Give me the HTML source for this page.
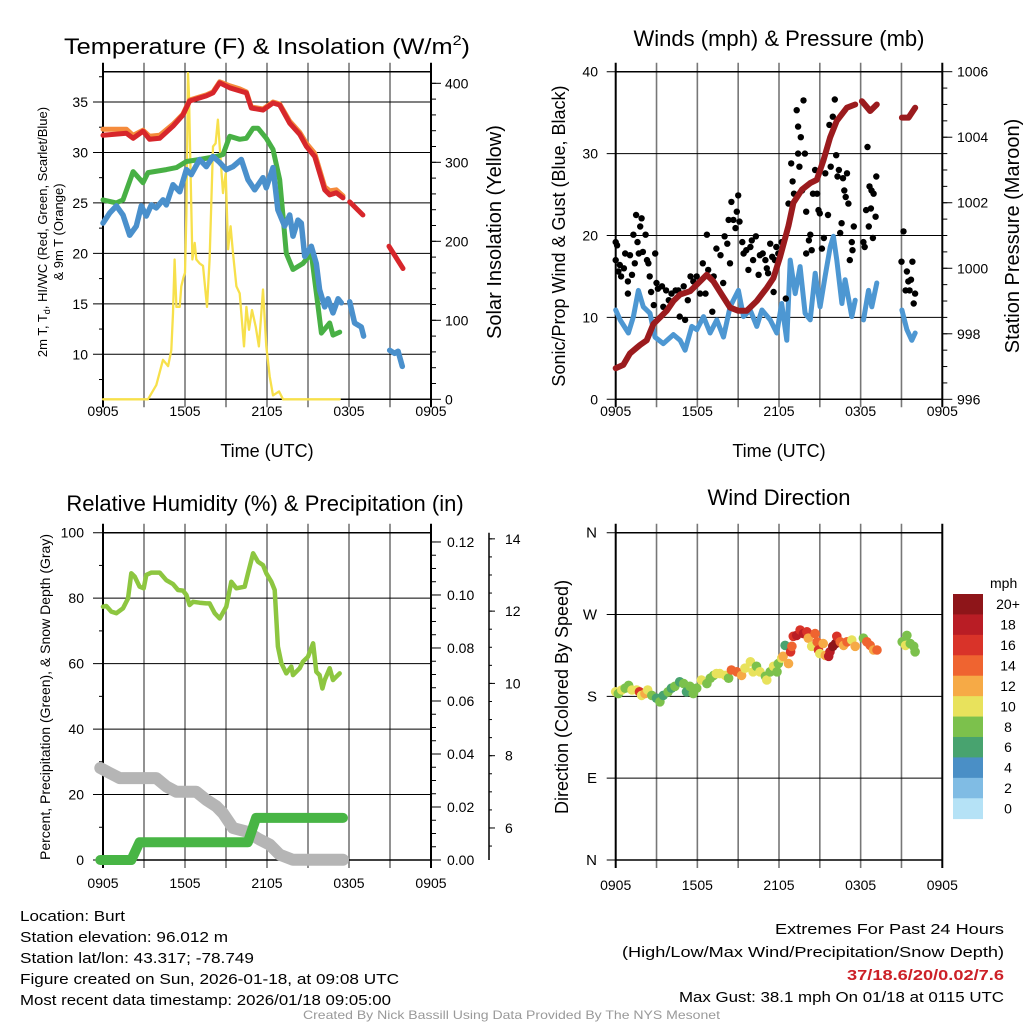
<!DOCTYPE html>
<html><head><meta charset="utf-8">
<style>
html,body{margin:0;padding:0;background:#fff;}
svg{display:block;font-family:"Liberation Sans",sans-serif;}
</style></head>
<body>
<svg id="chart" xmlns="http://www.w3.org/2000/svg" width="1024" height="1024" viewBox="0 0 1024 1024">
<rect x="0" y="0" width="1024" height="1024" fill="#fff"/>
<text x="64" y="54" font-size="22" textLength="406" lengthAdjust="spacingAndGlyphs">Temperature (F) &amp; Insolation (W/m<tspan font-size="14" dy="-9">2</tspan><tspan dy="9">)</tspan></text>
<text x="779" y="46" font-size="22" text-anchor="middle">Winds (mph) &amp; Pressure (mb)</text>
<text x="265" y="511" font-size="22" text-anchor="middle">Relative Humidity (%) &amp; Precipitation (in)</text>
<text x="779" y="505" font-size="22" text-anchor="middle">Wind Direction</text>
<text x="267" y="457" font-size="18" text-anchor="middle">Time (UTC)</text>
<text x="779" y="457" font-size="18" text-anchor="middle">Time (UTC)</text>
<text transform="translate(47,232) rotate(-90)" font-size="13" text-anchor="middle">2m T, T<tspan font-size="9" dy="3">d</tspan><tspan dy="-3">, HI/WC (Red, Green, Scarlet/Blue)</tspan></text>
<text transform="translate(63,232) rotate(-90)" font-size="13" text-anchor="middle">&amp; 9m T (Orange)</text>
<text transform="translate(501,232) rotate(-90)" font-size="20" text-anchor="middle">Solar Insolation (Yellow)</text>
<text transform="translate(565,236) rotate(-90)" font-size="18" text-anchor="middle">Sonic/Prop Wind &amp; Gust (Blue, Black)</text>
<text transform="translate(1019,236) rotate(-90)" font-size="20" text-anchor="middle">Station Pressure (Maroon)</text>
<text transform="translate(50,697) rotate(-90)" font-size="14" text-anchor="middle">Percent, Precipitation (Green), &amp; Snow Depth (Gray)</text>
<text transform="translate(568,697) rotate(-90)" font-size="18" text-anchor="middle">Direction (Colored By Speed)</text>
<g font-family="'Liberation Sans Narrow','Liberation Sans',sans-serif" font-size="15">
<text x="20" y="921" textLength="105" lengthAdjust="spacingAndGlyphs">Location: Burt</text>
<text x="20" y="942" textLength="208" lengthAdjust="spacingAndGlyphs">Station elevation: 96.012 m</text>
<text x="20" y="963" textLength="234" lengthAdjust="spacingAndGlyphs">Station lat/lon: 43.317; -78.749</text>
<text x="20" y="984" textLength="379" lengthAdjust="spacingAndGlyphs">Figure created on Sun, 2026-01-18, at 09:08 UTC</text>
<text x="20" y="1005" textLength="371" lengthAdjust="spacingAndGlyphs">Most recent data timestamp: 2026/01/18 09:05:00</text>
<text x="775" y="934" textLength="229" lengthAdjust="spacingAndGlyphs">Extremes For Past 24 Hours</text>
<text x="622" y="957" textLength="382" lengthAdjust="spacingAndGlyphs">(High/Low/Max Wind/Precipitation/Snow Depth)</text>
<text x="847" y="980" fill="#cc2027" font-weight="bold" textLength="157" lengthAdjust="spacingAndGlyphs">37/18.6/20/0.02/7.6</text>
<text x="679" y="1002" textLength="325" lengthAdjust="spacingAndGlyphs">Max Gust: 38.1 mph On 01/18 at 0115 UTC</text>
<text x="303" y="1019" font-size="12" fill="#999" textLength="417" lengthAdjust="spacingAndGlyphs">Created By Nick Bassill Using Data Provided By The NYS Mesonet</text>
</g>
</svg>
<script>
const xTickLabels = ["0905","1505","2105","0305","0905"];
const redHours = [0,1.71,2.2,2.93,3.41,4.15,5.12,5.85,6.34,7.56,8.05,8.54,9.27,10.0,10.49,10.85,11.71,12.44,12.93,13.66,14.39,14.88,15.49,16.22,16.59,17.07,17.56,null,18.05,19.02,null,20.93,21.95];
const redTemp  = [31.7,31.9,31.4,32.1,31.3,31.4,32.6,33.7,35.1,35.6,35.9,36.9,36.4,36.1,35.9,34.4,34.2,34.9,34.7,32.9,31.8,30.6,29.6,26.3,25.8,26.0,25.5,null,25.1,23.8,null,20.7,18.5];
const orangeHours = [0,1.71,2.2,2.93,3.41,4.15,5.12,5.85,6.34,7.56,8.05,8.54,9.27,10.0,10.49,10.85,11.71,12.44,12.93,13.66,14.39,14.88,15.49,16.22,16.59,17.07,17.56];
const orangeTemp  = [32.3,32.3,31.7,32.2,31.6,31.7,32.8,33.8,35.2,35.7,36.0,37.0,36.6,36.3,36.0,34.5,34.3,35.0,34.8,33.1,32.0,30.9,29.9,26.6,26.2,26.3,25.7];
const greenHours = [0,0.98,1.46,2.2,2.93,3.29,4.63,5.37,6.1,7.07,8.29,8.78,9.27,10.0,10.49,10.98,11.34,11.95,12.44,12.93,13.17,13.41,13.9,14.63,15.24,15.61,15.98,16.59,16.83,17.32];
const greenTemp  = [25.3,25.0,25.3,28.1,27.0,28.0,28.3,28.5,29.1,29.3,29.6,29.8,31.6,31.3,31.4,32.4,32.4,31.4,30.3,27.3,23.7,20.0,18.4,19.0,20.0,16.1,12.1,13.1,11.9,12.2];
const blueHours = [0,0.49,0.98,1.46,1.95,2.44,2.8,3.17,3.54,3.9,4.39,4.63,5.12,5.61,6.1,6.46,7.07,7.56,8.05,8.54,9.02,9.51,10.12,10.61,11.1,11.71,11.95,12.44,12.8,13.29,13.66,13.9,14.27,14.51,14.76,15.24,15.61,15.85,16.22,16.46,16.83,17.2,17.44,null,18.05,18.41,18.9,19.07,null,20.98,21.34,21.59,21.9];
const blueTemp  = [23.0,24.0,24.7,23.8,21.8,22.7,24.7,23.7,24.8,24.5,25.3,24.8,26.8,26.1,28.3,27.8,29.3,28.6,29.6,29.0,28.3,28.6,29.3,27.3,26.3,27.5,26.5,28.5,24.3,22.7,23.8,21.7,23.3,23.0,19.7,20.7,19.0,16.4,14.7,15.5,14.1,15.5,15.1,null,15.2,13.1,12.7,11.8,null,10.4,10.1,10.3,8.8];
const solarHours = [0,3.29,3.9,4.39,4.76,5.0,5.12,5.24,5.37,5.61,5.73,5.9,6.0,6.1,6.22,6.29,6.39,6.54,6.71,6.83,7.07,7.32,7.61,7.8,8.05,8.24,8.41,8.54,8.78,8.98,9.15,9.34,9.51,9.76,10.0,10.32,10.49,10.68,10.9,11.17,11.41,11.71,11.95,12.2,12.44,12.88,13.17,17.32];
const solarWm2  = [0,0,18,50,42,62,109,177,117,117,143,155,160,236,413,384,303,177,198,177,172,169,117,177,320,324,354,320,261,286,190,219,185,143,134,67,117,88,113,92,67,139,67,29,5,10,0,0];
const pressHours = [0,0.56,1.05,1.79,2.28,2.77,3.26,3.75,4.24,4.73,5.47,6.2,6.69,7.18,7.79,8.41,9.02,9.63,10.37,11.1,11.59,12.08,12.7,13.06,13.68,14.29,14.78,15.27,15.76,16.25,16.99,17.6,null,18.09,18.7,19.19,null,21.03,21.52,22.01];
const pressMb   = [996.95,997.05,997.4,997.66,997.8,998.3,998.5,998.7,999.0,999.2,999.3,999.6,999.8,999.6,999.2,998.8,998.7,998.7,999.0,999.4,999.7,1000.35,1001.3,1002.0,1002.4,1002.6,1002.7,1003.3,1004.0,1004.5,1004.9,1005.0,null,1005.1,1004.8,1005.0,null,1004.6,1004.6,1004.9];
const windHours = [0,0.32,0.93,1.3,1.67,2.03,2.52,2.89,3.5,4.24,4.73,5.1,5.59,5.96,6.45,6.94,7.43,7.92,8.41,9.02,9.39,9.88,10.37,10.74,11.35,11.84,12.2,12.57,12.82,13.19,13.55,13.92,14.29,14.66,15.02,15.39,15.76,16.0,16.25,16.62,16.86,17.35,17.6,null,18.21,18.58,18.82,19.19,null,21.03,21.4,21.76,22.01];
const windMph   = [10.9,9.7,8.1,10.1,13.3,11.3,10.5,7.6,6.8,7.9,7.2,6.0,8.9,8.5,10.1,8.1,9.7,7.6,11.3,13.3,10.1,10.9,8.9,10.9,9.7,8.1,11.7,7.2,17.0,12.9,16.2,10.5,9.7,15.4,11.3,15.0,18.6,19.9,17.0,11.7,14.6,10.1,12.1,null,9.7,13.3,11.3,14.2,null,10.9,8.5,7.2,8.1];
const gustHours = [0,0.1,0,0.2,0.3,0.4,0.6,0.7,0.9,0.9,1.05,1.2,1.3,1.4,1.5,1.6,1.7,1.8,1.9,2.0,2.2,2.3,2.4,2.5,2.6,2.8,2.9,3.0,3.1,3.4,3.5,3.7,3.9,4.1,4.4,4.6,4.7,5.0,5.1,5.3,5.5,5.7,5.95,6.2,6.4,6.6,6.7,6.8,7.1,7.2,7.4,7.7,7.9,8.0,8.2,8.3,8.4,8.5,8.65,8.8,8.9,9.0,9.1,9.3,9.4,9.6,9.75,9.9,10.0,10.1,10.3,10.5,10.6,10.8,11.0,11.1,11.2,11.35,11.5,11.6,11.7,11.8,11.95,12.2,12.5,12.7,12.9,13.0,13.1,13.3,13.4,13.4,13.5,13.6,13.7,13.8,13.9,14.0,14.0,14.2,14.3,14.4,14.5,14.65,14.8,14.9,15.0,15.15,15.3,15.4,15.6,15.7,15.8,15.95,16.1,16.2,16.3,16.4,16.5,16.6,16.7,16.8,16.9,17.0,17.1,17.2,17.35,17.4,17.5,18.2,18.3,18.4,18.5,18.6,18.65,18.75,18.8,18.9,18.95,19.1,19.15,21.0,21.15,21.3,21.4,21.5,21.6,21.7,21.8,21.9,22.0];
const gustMph  = [19.2,18.8,17.0,15.6,16.4,15.0,16.0,17.8,14.4,12.9,17.6,15.2,20.1,16.6,22.5,19.2,17.8,21.1,22.1,18.0,20.1,17.0,16.6,15.0,13.1,11.5,17.8,14.2,13.5,13.8,11.3,13.3,12.1,12.9,13.3,13.3,10.1,13.8,9.7,12.1,15.0,14.4,15.0,12.9,16.6,12.9,20.1,15.8,10.7,15.0,18.4,17.6,14.2,19.9,19.0,21.9,16.6,24.1,21.9,20.9,22.9,24.9,21.7,19.2,17.8,18.2,15.8,18.6,19.4,17.0,19.9,15.2,17.6,17.8,17.0,16.0,15.4,19.0,17.4,13.1,17.0,18.6,17.8,19.2,12.3,23.9,28.8,26.6,25.1,35.3,30.0,33.3,28.4,32.0,25.5,36.5,30.0,22.9,17.8,19.4,20.1,18.2,25.1,28.0,25.1,23.1,22.7,18.4,19.7,27.6,22.5,33.5,28.4,34.5,36.6,29.8,27.2,28.0,20.3,21.5,27.0,25.5,24.7,27.6,23.9,17.0,19.2,18.2,21.1,19.2,18.6,23.1,30.8,21.1,26.0,23.3,25.5,19.7,25.1,22.3,27.2,16.8,20.5,13.3,15.6,14.4,13.3,14.6,16.8,11.7,12.9];
const rhHours = [0,0.24,0.61,0.98,1.46,1.83,2.07,2.32,2.68,2.98,3.17,3.54,4.15,4.63,5.12,5.49,5.85,6.1,6.34,6.59,7.07,7.56,7.8,8.17,8.54,9.02,9.39,9.76,10.37,10.61,10.98,11.34,11.71,11.95,12.32,12.56,12.8,13.05,13.41,13.78,13.9,14.39,14.63,15.0,15.37,15.61,15.85,16.05,16.22,16.59,16.83,17.07,17.32];
const rhPct   = [77.4,77.6,75.9,75.4,76.9,79.9,87.6,86.6,83.5,83.0,87.1,87.8,87.8,85.5,84.3,82.5,82.3,81.0,77.9,78.9,78.6,78.4,78.4,75.4,73.8,77.4,85.0,83.0,83.5,87.6,93.7,91.1,90.1,87.6,85.0,82.5,65.2,60.1,57.0,59.1,56.5,58.6,60.6,62.1,66.2,57.5,56.5,52.4,55.0,58.6,55.0,56.0,57.0];
const snowHours = [-0.2,0.49,1.22,2.2,3.9,4.63,5.37,6.83,7.56,8.29,8.78,9.51,10.49,11.46,12.2,12.93,13.9,17.56];
const snowIn    = [7.66,7.52,7.38,7.38,7.38,7.15,7.0,7.0,6.78,6.6,6.41,6.0,5.9,5.68,5.54,5.26,5.12,5.12];
const precipHours = [-0.2,2.07,2.68,10.6,11.2,17.56];
const precipIn    = [0,0,0.0067,0.0067,0.0159,0.0159];
const dirHours = [0,0.2,0.45,0.7,0.95,1.2,1.55,1.75,1.9,2.15,2.35,2.65,3.0,3.25,3.5,3.85,4.1,4.35,4.7,5.0,5.2,5.45,5.7,5.95,6.3,6.7,6.95,7.2,7.4,7.65,8.05,8.3,8.5,8.9,9.25,9.5,9.9,10.1,10.35,10.6,11.0,11.1,11.35,11.6,11.85,11.95,12.2,12.3,12.45,12.7,12.85,12.95,13.05,13.3,13.55,13.8,14.05,14.15,14.4,14.65,14.8,14.9,15.0,15.25,15.4,15.65,15.75,15.95,16.15,16.25,16.5,16.75,17.0,17.35,17.6,18.2,18.45,18.7,18.95,19.2,21.05,21.3,21.4,21.65,21.9,22.0];
const dirDeg   = [185,183,187,189,192,187,187,185,181,183,187,181,178,174,181,185,189,191,196,194,185,191,183,189,198,194,200,203,205,205,203,200,209,207,203,211,218,207,213,207,202,198,207,213,207,216,222,224,236,216,229,235,246,247,253,249,251,244,235,249,240,231,227,238,225,224,229,235,238,246,240,236,240,242,235,244,240,236,231,231,240,236,247,238,235,229];
const dirSpeed = [10,8,10,8,8,10,10,16,10,12,10,8,6,8,6,8,6,8,6,8,6,8,8,8,10,8,8,8,10,10,10,8,14,14,12,10,10,10,8,10,8,10,8,10,8,8,10,12,6,12,16,14,16,18,16,18,16,12,10,14,14,16,10,12,12,18,18,20,20,16,14,12,14,10,12,8,14,14,12,14,8,10,8,8,8,8];
const speedBins = ["0","2","4","6","8","10","12","14","16","18","20+"];
const speedColors = ["#b5e2f6","#80bce4","#4a8fc6","#48a36f","#7cc14c","#e8e25c","#f6aa46","#ef6430","#d93329","#b91d25","#8e1519"];

const NS = "http://www.w3.org/2000/svg";
const svg = document.getElementById("chart");
function mk(tag, attrs, parent) {
  const e = document.createElementNS(NS, tag);
  for (const k in attrs) e.setAttribute(k, attrs[k]);
  (parent || svg).appendChild(e);
  return e;
}
function pathD(xs, ys, fx, fy) {
  let d = "", pen = false;
  for (let i = 0; i < xs.length; i++) {
    if (xs[i] === null || ys[i] === null) { pen = false; continue; }
    d += (pen ? "L" : "M") + fx(xs[i]).toFixed(1) + "," + fy(ys[i]).toFixed(1);
    pen = true;
  }
  return d;
}
function lin(d0, d1, r0, r1) { return v => r0 + (v - d0) / (d1 - d0) * (r1 - r0); }
function grid(g, x0, x1, top, bot, hLines, fy, leftExt) {
  for (let i = 0; i <= 8; i++) {
    const x = x0 + (x1 - x0) * i / 8;
    const l = mk("line", {x1: x, x2: x, y1: top - 9, y2: bot + 8, stroke: (i === 0 || i === 8) ? "#000" : "#777", "stroke-width": (i === 0 || i === 8) ? 2 : 1.6}, g);
    
    
  }
  hLines.forEach(v => {
    const y = fy(v);
    const l = mk("line", {x1: x0 - leftExt, x2: x1, y1: y, y2: y, stroke: "#000", "stroke-width": 1}, g);
    
    
  });
  const t = mk("line", {x1: x0, x2: x1, y1: top, y2: top, stroke: "#000", "stroke-width": 1.5}, g);
  
  
  const b = mk("line", {x1: x0, x2: x1, y1: bot, y2: bot, stroke: "#000", "stroke-width": 1.5}, g);
  
  
}
function xLabels(g, x0, x1, y) {
  xTickLabels.forEach((s, i) => {
    const t = mk("text", {x: x0 + (x1 - x0) * i / 4, y: y, "font-size": 14, "text-anchor": "middle"}, g);
    
    
    t.textContent = s;
  });
}
function yLabels(g, vals, labels, fy, x, anchor, size) {
  vals.forEach((v, i) => {
    const t = mk("text", {x: x, y: fy(v) + 5, "font-size": size || 14, "text-anchor": anchor}, g);
    
    
    t.textContent = labels[i];
  });
}
function ticks(g, x, vals, fy, len) {
  vals.forEach(v => {
    const y = fy(v);
    const l = mk("line", {x1: x, x2: x + len, y1: y, y2: y, stroke: "#000", "stroke-width": 1}, g);
    
    
  });
}
function range(a, b, s) { const r = []; for (let v = a; v <= b + 1e-9; v += s) r.push(+v.toFixed(4)); return r; }
function line(g, xs, ys, fx, fy, color, w, name) {
  const p = mk("path", {d: pathD(xs, ys, fx, fy), fill: "none", stroke: color, "stroke-width": w, "stroke-linejoin": "round", "stroke-linecap": "round"}, g);
  
  
  return p;
}

(function () {
  const g = mk("g", {});
  
  
  const x0 = 103, x1 = 431, top = 71.7, bot = 399.3;
  const fx = lin(0, 24, x0, x1), fy = lin(5.54, 38.0, bot, top), fr = lin(0, 414.7, bot, top);
  grid(g, x0, x1, top, bot, [10, 15, 20, 25, 30, 35], fy, 10);
  ticks(g, x0 - 4, range(7.5, 37.5, 5), fy, 4);
  ticks(g, x1, range(0, 400, 100), fr, 10);
  ticks(g, x1, range(20, 400, 20), fr, 5);
  xLabels(g, x0, x1, 416);
  yLabels(g, [10, 15, 20, 25, 30, 35], ["10", "15", "20", "25", "30", "35"], fy, 88, "end");
  yLabels(g, [0, 100, 200, 300, 400], ["0", "100", "200", "300", "400"], fr, 445, "start");
  line(g, solarHours, solarWm2, fx, fr, "#f7e04b", 2.3, "solar-insolation-line");
  line(g, orangeHours, orangeTemp, fx, fy, "#f58b3c", 5, "9m-temperature-line");
  line(g, redHours, redTemp, fx, fy, "#d7262b", 5, "2m-temperature-line");
  line(g, greenHours, greenTemp, fx, fy, "#48b045", 5, "dewpoint-line");
  line(g, blueHours, blueTemp, fx, fy, "#4a90cc", 5.5, "wind-chill-line");
})();

(function () {
  const g = mk("g", {});
  
  
  const x0 = 615.7, x1 = 942.3, top = 71.7, bot = 399.3;
  const fx = lin(0, 24, x0, x1), fy = lin(0, 40, bot, top), fp = lin(996, 1006, bot, top);
  grid(g, x0, x1, top, bot, [0, 10, 20, 30, 40], fy, 9);
  ticks(g, x1, range(996, 1006, 2), fp, 10);
  ticks(g, x1, range(996.5, 1005.5, 0.5), fp, 5);
  xLabels(g, x0, x1, 416);
  yLabels(g, [0, 10, 20, 30, 40], ["0", "10", "20", "30", "40"], fy, 598, "end");
  yLabels(g, [996, 998, 1000, 1002, 1004, 1006], ["996", "998", "1000", "1002", "1004", "1006"], fp, 957, "start");
  line(g, windHours, windMph, fx, fy, "#4d97d2", 5, "sustained-wind-line");
  gustHours.forEach((h, i) => {
    const c = mk("circle", {cx: fx(h).toFixed(1), cy: fy(gustMph[i]).toFixed(1), r: 3.2, fill: "#000"}, g);
    
    
  });
  line(g, pressHours, pressMb, fx, fp, "#9b1b1e", 6, "station-pressure-line");
})();

(function () {
  const g = mk("g", {});
  
  
  const x0 = 103, x1 = 431, top = 532.7, bot = 860;
  const fx = lin(0, 24, x0, x1), fy = lin(0, 100, bot, top), fpr = lin(0, 0.1235, bot, top), fs = lin(5.114, 14.17, bot, top);
  grid(g, x0, x1, top, bot, [0, 20, 40, 60, 80, 100], fy, 10);
  ticks(g, x0 - 4, range(10, 90, 20), fy, 4);
  ticks(g, x1, range(0, 0.12, 0.02), fpr, 10);
  ticks(g, x1, range(0.005, 0.12, 0.005), fpr, 5);
  const ax = mk("line", {x1: 489, x2: 489, y1: top, y2: bot, stroke: "#000", "stroke-width": 1.5}, g);
  
  
  ticks(g, 489, range(6, 14, 2), fs, 6);
  ticks(g, 489, range(5.5, 14, 0.5), fs, 3);
  xLabels(g, x0, x1, 888);
  yLabels(g, [0, 20, 40, 60, 80, 100], ["0", "20", "40", "60", "80", "100"], fy, 84, "end");
  yLabels(g, [0, 0.02, 0.04, 0.06, 0.08, 0.10, 0.12], ["0.00", "0.02", "0.04", "0.06", "0.08", "0.10", "0.12"], fpr, 447, "start");
  yLabels(g, [6, 8, 10, 12, 14], ["6", "8", "10", "12", "14"], fs, 505, "start");
  line(g, rhHours, rhPct, fx, fy, "#8dc640", 4.5, "relative-humidity-line");
  line(g, snowHours, snowIn, fx, fs, "#b5b5b5", 12, "snow-depth-line");
  line(g, precipHours, precipIn, fx, fpr, "#48b545", 10, "precipitation-line");
})();

(function () {
  const g = mk("g", {});
  
  
  const x0 = 615.7, x1 = 942.3, top = 532.7, bot = 860;
  const fx = lin(0, 24, x0, x1), fy = lin(0, 360, bot, top);
  grid(g, x0, x1, top, bot, [0, 90, 180, 270, 360], fy, 9);
  xLabels(g, x0, x1, 890);
  yLabels(g, [0, 90, 180, 270, 360], ["N", "E", "S", "W", "N"], fy, 597, "end", 15);
  function binIdx(s) { return Math.min(10, Math.floor(s / 2)); }
  dirHours.forEach((h, i) => {
    const c = mk("circle", {cx: fx(h).toFixed(1), cy: fy(dirDeg[i]).toFixed(1), r: 4.8, fill: speedColors[binIdx(dirSpeed[i])]}, g);
    
    
  });
  const lg = mk("g", {}, g);
  
  
  const ut = mk("text", {x: 990, y: 588, "font-size": 14}, lg);
  
  
  ut.textContent = "mph";
  const cTop = 594, cBot = 818.7, n = speedBins.length, ch = (cBot - cTop) / n;
  for (let k = 0; k < n; k++) {
    const idx = n - 1 - k;
    const r = mk("rect", {x: 953, y: (cTop + k * ch).toFixed(2), width: 30, height: (ch + 0.4).toFixed(2), fill: speedColors[idx]}, lg);
    
    
    const t = mk("text", {x: 1008, y: (cTop + k * ch + ch / 2 + 5).toFixed(1), "font-size": 14, "text-anchor": "middle"}, lg);
    
    
    t.textContent = speedBins[idx];
  }
})();
</script>
</body></html>
